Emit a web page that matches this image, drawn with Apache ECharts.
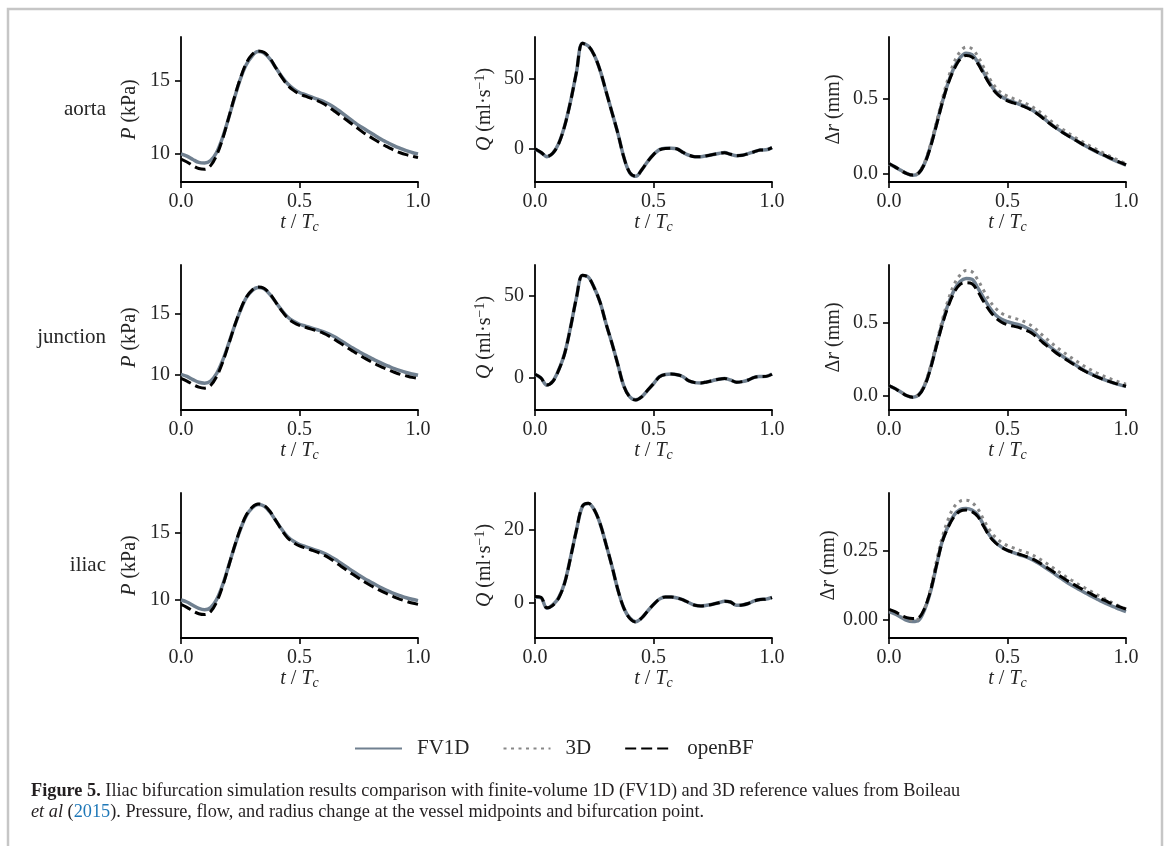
<!DOCTYPE html>
<html><head><meta charset="utf-8">
<script src="https://cdn.jsdelivr.net/npm/echarts@6/dist/echarts.min.js"></script>
<style>html,body{margin:0;padding:0;background:#fff}#c{width:1170px;height:846px}</style>
</head><body><div id="c"></div>
<script>
// ---------- data ----------
const T = [0,0.025,0.05,0.075,0.1,0.125,0.15,0.175,0.2,0.225,0.25,0.275,0.3,0.325,0.35,0.375,0.4,0.425,0.45,0.475,0.5,0.525,0.55,0.575,0.6,0.625,0.65,0.675,0.7,0.725,0.75,0.775,0.8,0.825,0.85,0.875,0.9,0.925,0.95,0.975,1.0];

const P_AORTA_FV1D = [10.0,9.85,9.62,9.42,9.38,9.55,10.1,11.1,12.4,13.8,15.1,16.1,16.7,17.0,16.9,16.5,15.9,15.3,14.8,14.45,14.2,14.05,13.9,13.75,13.6,13.4,13.15,12.85,12.55,12.25,11.95,11.7,11.45,11.2,10.95,10.75,10.55,10.38,10.22,10.1,10.0];
const P_AORTA_OPENBF = [9.65,9.45,9.2,9.0,8.95,9.2,9.9,11.0,12.4,13.85,15.15,16.2,16.8,17.05,16.95,16.55,15.9,15.25,14.7,14.35,14.1,13.95,13.8,13.65,13.45,13.2,12.9,12.6,12.3,12.0,11.7,11.4,11.15,10.9,10.65,10.45,10.25,10.08,9.95,9.85,9.75];
const P_JUNCTION_FV1D = [10.05,9.88,9.62,9.4,9.33,9.5,10.1,11.15,12.5,13.95,15.25,16.3,16.9,17.15,17.05,16.6,15.95,15.3,14.75,14.4,14.15,14.0,13.85,13.7,13.55,13.35,13.1,12.8,12.5,12.2,11.92,11.65,11.4,11.15,10.92,10.72,10.52,10.35,10.2,10.08,9.97];
const P_JUNCTION_OPENBF = [9.72,9.5,9.22,9.0,8.92,9.15,9.85,11.0,12.45,13.95,15.3,16.35,16.95,17.2,17.1,16.65,15.95,15.25,14.65,14.3,14.05,13.9,13.75,13.6,13.42,13.18,12.88,12.57,12.26,11.95,11.65,11.37,11.1,10.85,10.62,10.42,10.22,10.05,9.92,9.8,9.72];
const P_ILIAC_FV1D = [9.95,9.8,9.55,9.32,9.22,9.38,9.98,11.05,12.45,13.9,15.2,16.25,16.85,17.1,17.0,16.55,15.9,15.25,14.7,14.35,14.1,13.95,13.8,13.65,13.48,13.27,13.0,12.7,12.4,12.1,11.82,11.55,11.3,11.05,10.82,10.62,10.43,10.27,10.12,10.0,9.9];
const P_ILIAC_OPENBF = [9.62,9.4,9.12,8.92,8.86,9.08,9.78,10.95,12.42,13.92,15.25,16.3,16.9,17.15,17.05,16.6,15.9,15.2,14.6,14.25,14.0,13.85,13.7,13.54,13.35,13.1,12.8,12.48,12.17,11.87,11.58,11.3,11.04,10.8,10.57,10.37,10.17,10.0,9.85,9.72,9.62];

const Q_AORTA_FV1D = [0,-2.5,-5.5,-3,4,16.5,34,55,75.5,73.5,67,56,41,26,11,-6,-17,-19.5,-15,-9,-4,-0.5,0.5,0.5,0,-2.5,-4.5,-5.5,-5.5,-4.8,-4,-3.2,-2.6,-3.8,-4.8,-4.5,-3.3,-2,-0.8,-0.6,1];
const Q_AORTA_OPENBF = [0.2,-2.3,-5.4,-3.1,3.8,16.3,33.8,55,75.5,73.6,67,56,41,26,11,-6,-17,-19.6,-15,-9,-4,-0.6,0.4,0.5,0,-2.5,-4.5,-5.5,-5.5,-4.8,-4,-3.2,-2.7,-3.8,-4.8,-4.5,-3.3,-2,-0.8,-0.6,0.9];
const Q_JUNCTION_FV1D = [2.2,0,-4.3,-2,5,15,31,49,62.5,61.5,55,46,33,21,8,-5,-11.5,-13.3,-11.5,-7.5,-3.5,0.8,2.2,2.4,2,0.8,-1.8,-2.8,-3,-2.4,-1.6,-0.7,-0.3,-1.2,-2.6,-2.2,-1.2,0.4,0.9,1,2.4];
const Q_JUNCTION_OPENBF = [2.3,0.1,-4.2,-2.1,4.8,14.8,30.8,49,62.6,61.4,55,46,33,21,8,-5,-11.6,-13.4,-11.5,-7.5,-3.5,0.7,2.2,2.4,2,0.8,-1.8,-2.8,-3,-2.4,-1.6,-0.7,-0.3,-1.2,-2.6,-2.2,-1.2,0.4,0.9,1,2.3];
const Q_ILIAC_FV1D = [1.6,1.4,-1.5,-0.6,1.4,5.5,12.5,20,26.5,27.3,25.6,21.7,16,10,3.5,-1.5,-4.2,-5.2,-4.2,-2.3,-0.5,1.0,1.6,1.6,1.3,0.8,0,-0.7,-0.9,-0.7,-0.4,0,0.4,0.2,-0.7,-0.6,-0.2,0.5,0.9,1.0,1.5];
const Q_ILIAC_OPENBF = [1.7,1.5,-1.4,-0.7,1.3,5.4,12.4,20,26.6,27.4,25.6,21.7,16,10,3.5,-1.5,-4.3,-5.3,-4.2,-2.3,-0.5,1.0,1.6,1.6,1.3,0.8,0,-0.7,-0.9,-0.7,-0.4,0,0.4,0.2,-0.7,-0.6,-0.2,0.5,0.9,1.0,1.4];

const DR_AORTA_FV1D = [0.068,0.048,0.025,0.004,-0.008,0.006,0.07,0.185,0.33,0.48,0.61,0.71,0.775,0.805,0.795,0.745,0.675,0.605,0.55,0.515,0.495,0.48,0.465,0.45,0.43,0.405,0.375,0.343,0.313,0.287,0.262,0.238,0.214,0.191,0.169,0.149,0.13,0.111,0.093,0.076,0.059];
const DR_AORTA_3D = [0.068,0.047,0.024,0.003,-0.006,0.01,0.078,0.195,0.345,0.5,0.64,0.745,0.815,0.845,0.835,0.785,0.71,0.635,0.578,0.54,0.518,0.503,0.488,0.472,0.452,0.427,0.397,0.364,0.333,0.306,0.28,0.255,0.23,0.207,0.185,0.164,0.144,0.124,0.105,0.087,0.068];
const DR_AORTA_OPENBF = [0.07,0.048,0.024,0.003,-0.007,0.006,0.068,0.18,0.325,0.475,0.605,0.7,0.765,0.79,0.78,0.735,0.665,0.598,0.543,0.508,0.488,0.474,0.46,0.446,0.427,0.402,0.372,0.34,0.311,0.285,0.26,0.237,0.214,0.191,0.17,0.15,0.131,0.113,0.095,0.078,0.062];
const DR_JUNCTION_FV1D = [0.068,0.05,0.025,0.0,-0.01,0.005,0.07,0.19,0.345,0.5,0.63,0.725,0.784,0.805,0.8,0.74,0.67,0.605,0.555,0.525,0.508,0.497,0.487,0.47,0.45,0.415,0.377,0.343,0.31,0.28,0.252,0.225,0.198,0.174,0.152,0.133,0.116,0.1,0.087,0.075,0.064];
const DR_JUNCTION_3D = [0.068,0.05,0.026,0.002,-0.008,0.01,0.078,0.2,0.36,0.52,0.66,0.765,0.83,0.86,0.852,0.795,0.722,0.652,0.6,0.567,0.547,0.534,0.522,0.505,0.483,0.45,0.412,0.377,0.343,0.312,0.283,0.255,0.228,0.202,0.179,0.158,0.139,0.122,0.106,0.092,0.08];
const DR_JUNCTION_OPENBF = [0.07,0.05,0.024,0.0,-0.01,0.004,0.066,0.185,0.34,0.49,0.615,0.71,0.765,0.777,0.77,0.715,0.645,0.583,0.535,0.505,0.488,0.478,0.468,0.452,0.433,0.4,0.364,0.332,0.3,0.272,0.245,0.219,0.193,0.17,0.149,0.131,0.115,0.1,0.087,0.076,0.065];
const DR_ILIAC_FV1D = [0.028,0.02,0.008,-0.004,-0.008,-0.004,0.035,0.1,0.195,0.285,0.34,0.38,0.4,0.404,0.398,0.38,0.342,0.305,0.28,0.263,0.251,0.243,0.235,0.228,0.219,0.207,0.194,0.179,0.165,0.15,0.135,0.122,0.11,0.098,0.086,0.075,0.064,0.054,0.045,0.036,0.028];
const DR_ILIAC_3D = [0.034,0.026,0.013,0.002,-0.003,0.002,0.04,0.11,0.21,0.3,0.365,0.41,0.43,0.434,0.425,0.402,0.362,0.325,0.298,0.28,0.268,0.26,0.252,0.245,0.237,0.225,0.212,0.198,0.183,0.168,0.153,0.14,0.127,0.115,0.103,0.091,0.079,0.068,0.057,0.047,0.038];
const DR_ILIAC_OPENBF = [0.036,0.028,0.016,0.006,0.003,0.006,0.04,0.103,0.195,0.283,0.336,0.374,0.394,0.398,0.392,0.374,0.338,0.302,0.278,0.262,0.251,0.244,0.237,0.23,0.222,0.211,0.198,0.184,0.17,0.156,0.142,0.129,0.117,0.105,0.094,0.083,0.073,0.063,0.054,0.045,0.037];

// axis ticks and limits
const X_TICKS = [0, 0.5, 1.0];
const P_TICKS = [10, 15];
const Q_TICKS_AORTA = [0, 50];
const Q_TICKS_JUNCTION = [0, 50];
const Q_TICKS_ILIAC = [0, 20];
const DR_TICKS = [0.0, 0.5];
const DR_TICKS_ILIAC = [0.00, 0.25];
const Y_LIMITS = [
  [8.08, 18.0], [-23.6, 80], [-0.053, 0.913],
  [7.13, 19.0], [-19.5, 68.9], [-0.098, 0.898],
  [7.1, 17.97], [-9.7, 30.2], [-0.068, 0.46]
];
const ROW_LABELS = ['aorta', 'junction', 'iliac'];
const SERIES_NAMES = ['FV1D', '3D', 'openBF'];

// ---------- layout / style ----------
const FONT = '"Liberation Serif", "Times New Roman", serif';
const TXT = '#262626';
const GRID_LEFT = [181, 535, 889];
const GRID_TOP = [37, 265, 493];
const GW = 237, GH = 145;

const panels = [
  {fv: P_AORTA_FV1D, bf: P_AORTA_OPENBF, ticks: P_TICKS, dec: 0, kind: 'P'},
  {fv: Q_AORTA_FV1D, bf: Q_AORTA_OPENBF, ticks: Q_TICKS_AORTA, dec: 0, kind: 'Q'},
  {fv: DR_AORTA_FV1D, d3: DR_AORTA_3D, bf: DR_AORTA_OPENBF, ticks: DR_TICKS, dec: 1, kind: 'R'},
  {fv: P_JUNCTION_FV1D, bf: P_JUNCTION_OPENBF, ticks: P_TICKS, dec: 0, kind: 'P'},
  {fv: Q_JUNCTION_FV1D, bf: Q_JUNCTION_OPENBF, ticks: Q_TICKS_JUNCTION, dec: 0, kind: 'Q'},
  {fv: DR_JUNCTION_FV1D, d3: DR_JUNCTION_3D, bf: DR_JUNCTION_OPENBF, ticks: DR_TICKS, dec: 1, kind: 'R'},
  {fv: P_ILIAC_FV1D, bf: P_ILIAC_OPENBF, ticks: P_TICKS, dec: 0, kind: 'P'},
  {fv: Q_ILIAC_FV1D, bf: Q_ILIAC_OPENBF, ticks: Q_TICKS_ILIAC, dec: 0, kind: 'Q'},
  {fv: DR_ILIAC_FV1D, d3: DR_ILIAC_3D, bf: DR_ILIAC_OPENBF, ticks: DR_TICKS_ILIAC, dec: 2, kind: 'R'}
];

const NAME_TEXT = {
  P: '{i|P} (kPa)',
  Q: '{i|Q} (ml·s{sup|−1})',
  R: 'Δ{i|r} (mm)'
};
const NAME_GAP = {P: 41, Q: 39, R: 45};

const richName = {
  i: {fontFamily: FONT, fontSize: 20, fontStyle: 'italic', color: TXT},
  n: {fontFamily: FONT, fontSize: 20, color: TXT},
  sup: {fontFamily: FONT, fontSize: 14, color: TXT, padding: [0, 0, 9, 0]},
  sub: {fontFamily: FONT, fontSize: 14, fontStyle: 'italic', color: TXT, padding: [9, 0, 0, 0]}
};

const axisLine = {show: true, onZero: false, lineStyle: {color: '#000', width: 1.8}};
const axisTick = {show: true, inside: false, length: 6, lineStyle: {color: '#000', width: 1.6}};

const grids = [], xAxes = [], yAxes = [], series = [];
const LINE = {
  FV1D: {color: '#708090', width: 3.5, type: 'solid'},
  '3D': {color: '#888888', width: 3, type: [3, 4.5]},
  openBF: {color: '#000000', width: 3, type: [11, 5]}
};
function pairs(vals) { return T.map((t, k) => [t, vals[k]]); }

panels.forEach((p, idx) => {
  const r = Math.floor(idx / 3), c = idx % 3;
  grids.push({left: GRID_LEFT[c], top: GRID_TOP[r], width: GW, height: GH, containLabel: false});
  xAxes.push({
    gridIndex: idx, type: 'value', min: 0, max: 1, interval: 0.5,
    axisLine, axisTick, splitLine: {show: false},
    axisLabel: {color: TXT, fontFamily: FONT, fontSize: 20, margin: 10,
      customValues: X_TICKS, formatter: v => v.toFixed(1)},
    name: '{i|t} / {i|T}{sub|c}', nameLocation: 'middle', nameGap: 26,
    nameTextStyle: {fontFamily: FONT, fontSize: 20, color: TXT, rich: richName}
  });
  yAxes.push({
    gridIndex: idx, type: 'value', min: Y_LIMITS[idx][0], max: Y_LIMITS[idx][1],
    axisLine, splitLine: {show: false},
    axisTick: Object.assign({customValues: p.ticks}, axisTick),
    axisLabel: {color: TXT, fontFamily: FONT, fontSize: 20, margin: 11,
      customValues: p.ticks, formatter: v => v.toFixed(p.dec)},
    name: NAME_TEXT[p.kind], nameLocation: 'middle', nameRotate: 90, nameGap: NAME_GAP[p.kind],
    nameTextStyle: {fontFamily: FONT, fontSize: 20, color: TXT, rich: richName}
  });
  const list = [['FV1D', p.fv], ['3D', p.d3], ['openBF', p.bf]];
  list.forEach(([nm, vals]) => {
    if (!vals) return;
    series.push({
      name: nm, type: 'line', xAxisIndex: idx, yAxisIndex: idx,
      data: pairs(vals), showSymbol: false, symbol: 'none', smooth: 0.35,
      lineStyle: LINE[nm], itemStyle: {color: LINE[nm].color}, clip: true, silent: true
    });
  });
});

const graphics = [
  {type: 'rect', silent: true, shape: {x: 8, y: 9, width: 1154, height: 870},
   style: {fill: 'none', stroke: '#c6c6c6', lineWidth: 2.5}}
];
ROW_LABELS.forEach((lab, r) => {
  graphics.push({type: 'text', silent: true, x: 106, y: GRID_TOP[r] + GH / 2,
    style: {text: lab, font: '21px ' + FONT, fill: TXT, align: 'right', verticalAlign: 'middle',
      textAlign: 'right', textVerticalAlign: 'middle'}});
});

const CAP = 18.3;
const option = {
  animation: false,
  backgroundColor: '#fff',
  grid: grids, xAxis: xAxes, yAxis: yAxes, series,
  legend: {
    data: SERIES_NAMES, left: 349, top: 733, itemWidth: 47, itemHeight: 20, itemGap: 33,
    selectedMode: false,
    itemStyle: {opacity: 0, borderWidth: 0},
    textStyle: {fontFamily: FONT, fontSize: 21, color: TXT, padding: [0, 0, 0, 10]}
  },
  title: [{
    left: 31, top: 781, padding: 0,
    text: '{b|Figure 5.} Iliac bifurcation simulation results comparison with finite-volume 1D (FV1D) and 3D reference values from Boileau\n{i|et al} ({a|2015}). Pressure, flow, and radius change at the vessel midpoints and bifurcation point.',
    textStyle: {fontFamily: FONT, fontSize: CAP, fontWeight: 'normal', color: '#231f20', lineHeight: 21,
      rich: {
        b: {fontFamily: FONT, fontSize: CAP, fontWeight: 'bold', color: '#231f20', lineHeight: 21},
        i: {fontFamily: FONT, fontSize: CAP, fontStyle: 'italic', color: '#231f20', lineHeight: 21},
        a: {fontFamily: FONT, fontSize: CAP, color: '#1f78b8', lineHeight: 21}
      }}
  }],
  graphic: graphics
};
const chart = echarts.init(document.getElementById('c'));
chart.setOption(option);
</script></body></html>
